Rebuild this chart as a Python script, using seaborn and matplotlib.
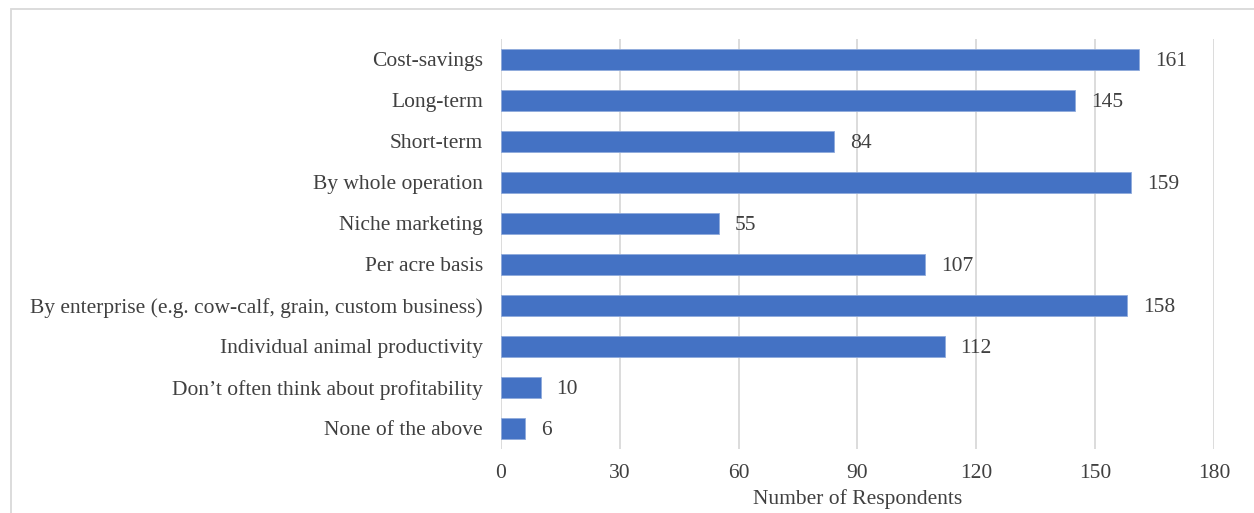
import matplotlib
matplotlib.use("Agg")
import matplotlib.pyplot as plt
import seaborn as sns
import pandas as pd
from matplotlib.patches import Rectangle

categories = [
    "Cost-savings",
    "Long-term",
    "Short-term",
    "By whole operation",
    "Niche marketing",
    "Per acre basis",
    "By enterprise (e.g. cow-calf, grain, custom business)",
    "Individual animal productivity",
    "Don\u2019t often think about profitability",
    "None of the above",
]
respondents = [161, 145, 84, 159, 55, 107, 158, 112, 10, 6]
x_ticks = [0, 30, 60, 90, 120, 150, 180]

sns.set_theme(style="white")
plt.rcParams["font.family"] = ["Liberation Serif", "DejaVu Serif"]

FS = 15.5
TXT = "#404040"

df = pd.DataFrame({"category": categories, "count": respondents})

fig = plt.figure(figsize=(12.54, 5.13), dpi=100)
ax = fig.add_axes([0.3995, 0.1248, 0.5686, 0.7992])

sns.barplot(data=df, x="count", y="category", orient="h", color="#4472C4",
            width=0.5, saturation=1, edgecolor="#8FAADC", linewidth=0.6, ax=ax)

ax.set_xlim(0, 180)
ax.set_ylim(9.5, -0.5)
ax.set_xticks(x_ticks)
ax.set_xticklabels([str(t) for t in x_ticks])
ax.xaxis.grid(True, color="#D9D9D9", linewidth=1.3)
ax.set_axisbelow(True)
for s in ax.spines.values():
    s.set_visible(False)
ax.tick_params(axis="both", length=0, labelsize=FS, labelcolor=TXT)
ax.tick_params(axis="x", pad=11)
ax.tick_params(axis="y", pad=13)
ax.set_ylabel("")
ax.set_xlabel("Number of Respondents", fontsize=FS, color=TXT, labelpad=4)

for i, v in enumerate(respondents):
    ax.annotate(str(v), xy=(v, i), xytext=(11.5, -1.5), textcoords="offset points",
                va="center", ha="left", fontsize=FS, color=TXT)

# light frame around the chart area
fig.patches.append(Rectangle((11 / 1254, -0.1), 1.2, 1 - 9 / 513 + 0.1,
                             transform=fig.transFigure, fill=False,
                             edgecolor="#D9D9D9", linewidth=1.3))

fig.savefig("out.png", dpi=100)
